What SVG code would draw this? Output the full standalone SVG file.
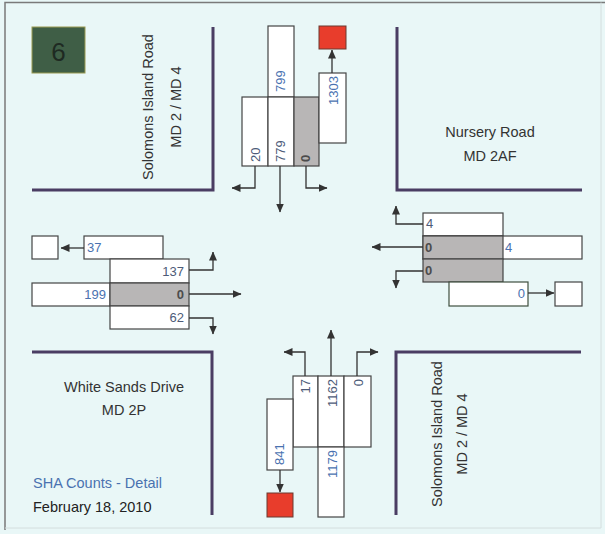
<svg xmlns="http://www.w3.org/2000/svg" width="605" height="534" viewBox="0 0 605 534">
<defs>
<marker id="ah" markerUnits="userSpaceOnUse" markerWidth="9" markerHeight="8" refX="8.5" refY="4" orient="auto">
<path d="M0,0 L9,4 L0,8 z" fill="#333"/>
</marker>
<style>
.bx{fill:#fff;stroke:#444;stroke-width:1.2}
.gy{fill:#b8b6b6;stroke:#444;stroke-width:1.2}
.rd{fill:#e83d2c;stroke:#6a3a30;stroke-width:1}
.curb{fill:none;stroke:#4a3d63;stroke-width:3}
.cn{fill:none;stroke:#333;stroke-width:1.3;marker-end:url(#ah)}
.road{font-family:"Liberation Sans",Arial,sans-serif;font-size:14.5px;fill:#333}
.n{font-family:"Liberation Sans",Arial,sans-serif;font-size:13px}
.a{fill:#4d5b78}
.d{fill:#4a72b0}
.z{fill:#4c4c4c;font-weight:bold}
</style>
</defs>
<rect x="0" y="0" width="605" height="534" fill="#e9f7f7"/>
<path d="M5,530 V2.5 H605" fill="none" stroke="#7a7a7a" stroke-width="1.5"/>
<path d="M601,2.5 V528 H5" fill="none" stroke="#d4dede" stroke-width="1"/>

<g id="badge">
<rect x="32" y="27" width="53" height="46" fill="#3f5e46" stroke="#9a9a50" stroke-width="1"/>
<text x="58.5" y="61" text-anchor="middle" font-family="Liberation Sans,Arial,sans-serif" font-size="26" fill="#1e2a22">6</text>
</g>

<g id="curbs">
<path class="curb" d="M32,190 H213 V27"/>
<path class="curb" d="M397,27 V190 H582"/>
<path class="curb" d="M32,352 H212 V515"/>
<path class="curb" d="M396,515 V352 H581"/>
</g>

<g id="road-labels">
<text class="road" transform="translate(153,107) rotate(-90)" text-anchor="middle">Solomons Island Road</text>
<text class="road" transform="translate(181,107) rotate(-90)" text-anchor="middle">MD 2 / MD 4</text>
<text class="road" x="490" y="137" text-anchor="middle">Nursery Road</text>
<text class="road" x="490" y="161" text-anchor="middle">MD 2AF</text>
<text class="road" x="124" y="392" text-anchor="middle">White Sands Drive</text>
<text class="road" x="124" y="415" text-anchor="middle">MD 2P</text>
<text class="road" transform="translate(442,434) rotate(-90)" text-anchor="middle">Solomons Island Road</text>
<text class="road" transform="translate(467,434) rotate(-90)" text-anchor="middle">MD 2 / MD 4</text>
<text class="road" x="33" y="488" style="fill:#4a72b0">SHA Counts - Detail</text>
<text class="road" x="33" y="512" style="fill:#222">February 18, 2010</text>
</g>

<g id="north">
<rect class="rd" x="319" y="26" width="27" height="23"/>
<rect class="bx" x="268" y="26" width="26" height="71"/>
<rect class="bx" x="242" y="97" width="26" height="69"/>
<rect class="bx" x="268" y="97" width="26" height="69"/>
<rect class="gy" x="294" y="97" width="25" height="69"/>
<rect class="bx" x="319" y="73" width="27" height="70"/>
<text class="n d" transform="translate(285,92) rotate(-90)">799</text>
<text class="n a" transform="translate(260,162) rotate(-90)">20</text>
<text class="n a" transform="translate(285,162) rotate(-90)">779</text>
<text class="n z" transform="translate(310,162) rotate(-90)">0</text>
<text class="n d" transform="translate(338,76) rotate(-90)" text-anchor="end">1303</text>
</g>

<g id="west">
<rect class="bx" x="32" y="236" width="26" height="23"/>
<rect class="bx" x="84" y="236" width="79" height="23"/>
<rect class="bx" x="110" y="259" width="79" height="24"/>
<rect class="bx" x="32" y="283" width="78" height="23"/>
<rect class="gy" x="110" y="283" width="79" height="23"/>
<rect class="bx" x="110" y="306" width="79" height="23"/>
<text class="n d" x="87" y="252">37</text>
<text class="n a" x="184" y="276" text-anchor="end">137</text>
<text class="n d" x="106" y="299" text-anchor="end">199</text>
<text class="n z" x="184" y="299" text-anchor="end">0</text>
<text class="n a" x="184" y="322" text-anchor="end">62</text>
</g>

<g id="east">
<rect class="bx" x="423" y="213" width="80" height="23"/>
<rect class="bx" x="423" y="236" width="159" height="23"/>
<rect class="gy" x="423" y="236" width="80" height="23"/>
<rect class="gy" x="423" y="259" width="80" height="23"/>
<rect class="bx" x="449" y="282" width="79" height="24" style="stroke:#3f4f3f"/>
<rect class="bx" x="555" y="282" width="27" height="24"/>
<text class="n a" x="426" y="228">4</text>
<text class="n z" x="425" y="252">0</text>
<text class="n d" x="505" y="252">4</text>
<text class="n z" x="425" y="275">0</text>
<text class="n d" x="525" y="298" text-anchor="end">0</text>
</g>

<g id="south">
<rect class="bx" x="293" y="376" width="25" height="71"/>
<rect class="bx" x="318" y="376" width="26" height="71"/>
<rect class="bx" x="344" y="376" width="27" height="71"/>
<rect class="bx" x="318" y="447" width="26" height="70"/>
<rect class="bx" x="267" y="399" width="26" height="71"/>
<rect class="rd" x="267" y="493" width="26" height="24"/>
<text class="n a" transform="translate(310,379) rotate(-90)" text-anchor="end">17</text>
<text class="n a" transform="translate(337,379) rotate(-90)" text-anchor="end">1162</text>
<text class="n a" transform="translate(363,379) rotate(-90)" text-anchor="end">0</text>
<text class="n d" transform="translate(337,450) rotate(-90)" text-anchor="end">1179</text>
<text class="n d" transform="translate(284,465) rotate(-90)">841</text>
</g>

<g id="connectors">
<path class="cn" d="M255,166 V188 H232"/>
<path class="cn" d="M280,166 V212"/>
<path class="cn" d="M306,166 V188 H327"/>
<path class="cn" d="M332,73 V50"/>
<path class="cn" d="M84,248 H61"/>
<path class="cn" d="M189,270 H213 V252"/>
<path class="cn" d="M189,294 H241"/>
<path class="cn" d="M189,318 H213 V334"/>
<path class="cn" d="M423,224 H396 V206"/>
<path class="cn" d="M423,247 H372"/>
<path class="cn" d="M423,271 H396 V288"/>
<path class="cn" d="M528,293 H554"/>
<path class="cn" d="M305,376 V352 H284"/>
<path class="cn" d="M331,376 V330"/>
<path class="cn" d="M357,376 V352 H378"/>
<path class="cn" d="M280,470 V492"/>
</g>
</svg>
